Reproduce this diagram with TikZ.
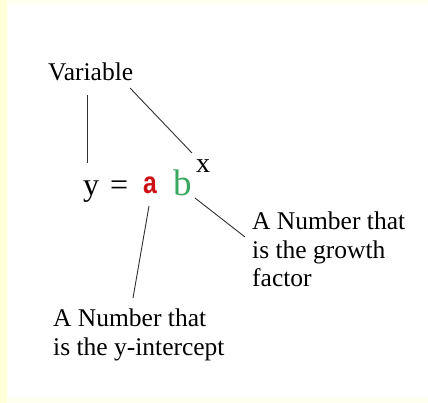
\documentclass[tikz,border=0pt]{standalone}
\usepackage{fontspec}
\setmainfont{Liberation Serif}
\newfontfamily\redafont{Liberation Sans}
\definecolor{bgyellow}{HTML}{FFFFD8}
\definecolor{bgfaint}{HTML}{FFFFF0}
\definecolor{ared}{HTML}{CC1016}
\definecolor{bgreen}{HTML}{38A85E}
\definecolor{linegray}{HTML}{303030}
\tikzset{
  lbl/.style={inner sep=0pt, anchor=base west, font=\fontsize{25.5}{28.5}\selectfont, align=left},
  eq/.style={inner sep=0pt, anchor=base west},
  conn/.style={draw=linegray, line width=0.9pt}
}
\begin{document}
\begin{tikzpicture}[x=1pt,y=-1pt]
\useasboundingbox (0,0) rectangle (428,403);
\fill[bgfaint] (0,0) rectangle (428,403);
\fill[white] (8,4) rectangle (428,397);
\fill[bgyellow] (0,0) rectangle (7,403);
% texts (base anchor = baseline of the last line)
\node[lbl] (var) at (48,81) {Variable};
\node[lbl] (growth) at (252,287) {A Number that\\is the growth\\factor};
\node[lbl] (inter) at (53,355) {A Number that\\is the y-intercept};
% equation
\node[eq, font=\rmfamily\fontsize{32}{32}\selectfont] (y) at (83,196) {y};
\node[eq, font=\rmfamily\fontsize{32}{32}\selectfont] (eqs) at (110,196) {=};
\node[eq, text=ared, font=\redafont\bfseries\fontsize{31}{31}\selectfont] (a) at (143,194) {\scalebox{0.8}[1]{a}};
\node[eq, text=bgreen, font=\rmfamily\fontsize{37}{37}\selectfont] (b) at (173,196) {b};
\node[eq, font=\rmfamily\fontsize{28}{28}\selectfont] (xx) at (196,173) {x};
% connector end points
\coordinate (v1) at (87,95);
\coordinate (y1) at (87,163);
\coordinate (v2) at (130,88);
\coordinate (x1) at (192,153);
\coordinate (a1) at (149,206);
\coordinate (i1) at (133,298);
\coordinate (b1) at (195,198);
\coordinate (g1) at (245,237);
\draw[conn] (v1) -- (y1);
\draw[conn] (v2) -- (x1);
\draw[conn] (a1) -- (i1);
\draw[conn] (b1) -- (g1);
\end{tikzpicture}
\end{document}
